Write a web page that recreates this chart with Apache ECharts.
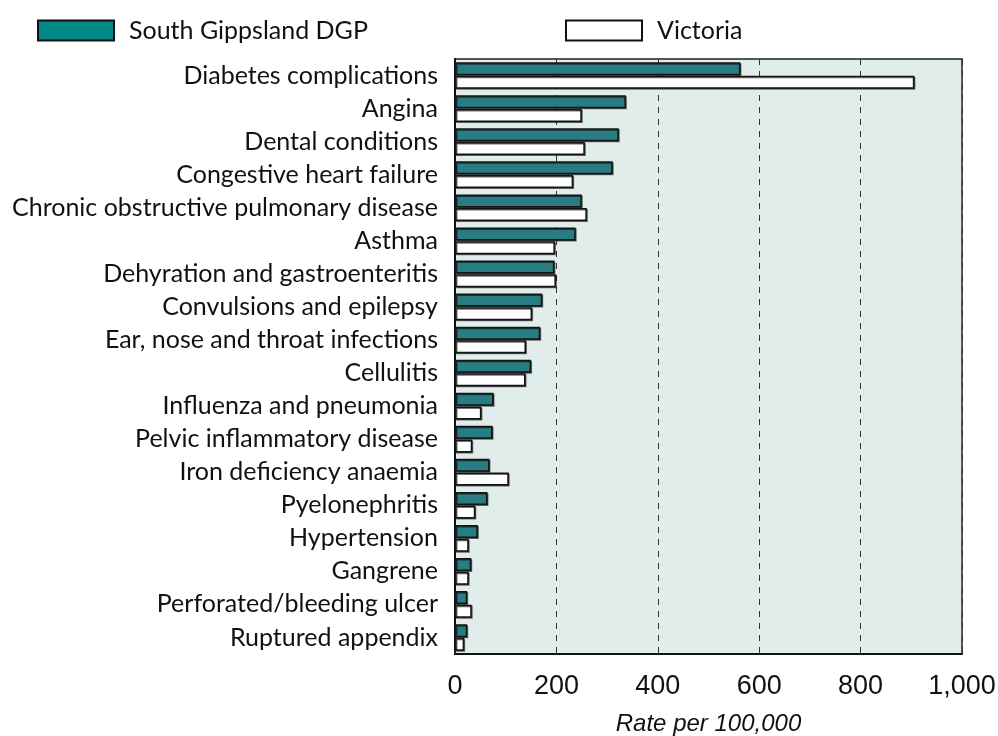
<!DOCTYPE html>
<html>
<head>
<meta charset="utf-8">
<script src="https://cdn.jsdelivr.net/npm/echarts@6/dist/echarts.min.js"></script>
<style>html,body{margin:0;padding:0;background:#fff}#c{width:998px;height:736px}</style>
</head>
<body>
<div id="c"></div>
<script>
const categories = [
  "Diabetes complications",
  "Angina",
  "Dental conditions",
  "Congestive heart failure",
  "Chronic obstructive pulmonary disease",
  "Asthma",
  "Dehyration and gastroenteritis",
  "Convulsions and epilepsy",
  "Ear, nose and throat infections",
  "Cellulitis",
  "Influenza and pneumonia",
  "Pelvic inflammatory disease",
  "Iron deficiency anaemia",
  "Pyelonephritis",
  "Hypertension",
  "Gangrene",
  "Perforated/bleeding ulcer",
  "Ruptured appendix"
];
const southGippsland = [563, 337, 323, 311, 250, 238, 196, 172, 168, 150, 76, 74, 68, 64, 45, 32, 24, 24];
const victoria = [906, 250, 256, 233, 260, 197, 199, 152, 140, 139, 52, 34, 106, 40, 27, 27, 33, 18];
const xTicks = [0, 200, 400, 600, 800, 1000];
const seriesNames = ["South Gippsland DGP", "Victoria"];
const axisTitle = "Rate per 100,000";

const chart = echarts.init(document.getElementById('c'), null, {renderer: 'canvas'});
const barStyleBase = {
  borderColor: '#151515',
  borderWidth: 1.5,
  shadowColor: 'rgba(0,0,0,0.55)',
  shadowOffsetX: 1,
  shadowOffsetY: 1,
  shadowBlur: 0
};
const legendText = {fontFamily: 'Lato, sans-serif', fontSize: 25, color: '#111', padding: [0, 0, 0, 10]};
chart.setOption({
  animation: false,
  backgroundColor: '#ffffff',
  legend: [
    {left: 32, top: 13, itemWidth: 76, itemHeight: 20, icon: 'rect', data: [seriesNames[0]],
     itemStyle: {color: '#03888a', borderColor: '#111', borderWidth: 2, shadowBlur: 0, shadowOffsetX: 0, shadowOffsetY: 0},
     textStyle: legendText},
    {left: 560, top: 13, itemWidth: 76, itemHeight: 20, icon: 'rect', data: [seriesNames[1]],
     itemStyle: {color: '#ffffff', borderColor: '#111', borderWidth: 2, shadowBlur: 0, shadowOffsetX: 0, shadowOffsetY: 0},
     textStyle: legendText}
  ],
  grid: {left: 455, right: 36, top: 59, bottom: 82, containLabel: false, outerBoundsMode: 'none',
         show: true, backgroundColor: '#e1edea', borderColor: '#222', borderWidth: 1.5},
  xAxis: {
    type: 'value', min: xTicks[0], max: xTicks[xTicks.length - 1], interval: 200,
    axisLine: {show: true, lineStyle: {color: '#111', width: 2}},
    axisTick: {show: true, inside: true, length: 7, lineStyle: {color: '#333', width: 1}},
    splitLine: {show: true, lineStyle: {color: '#333', type: [6, 6], width: 1}},
    axisLabel: {fontFamily: '"Liberation Sans",sans-serif', fontSize: 27, color: '#111', margin: 19,
      formatter: v => v.toLocaleString('en-US')},
    name: axisTitle, nameLocation: 'middle', nameGap: 58,
    nameTextStyle: {fontFamily: '"Liberation Sans",sans-serif', fontStyle: 'italic', fontSize: 24, color: '#111'}
  },
  yAxis: {
    type: 'category', data: categories, inverse: true,
    axisLine: {show: true, lineStyle: {color: '#111', width: 2}},
    axisTick: {show: false},
    axisLabel: {fontFamily: 'Lato, sans-serif', fontSize: 25, color: '#111', margin: 17}
  },
  series: [
    {name: seriesNames[0], type: 'bar', data: southGippsland, barWidth: 13, barGap: '5%',
     itemStyle: Object.assign({color: '#287c82'}, barStyleBase)},
    {name: seriesNames[1], type: 'bar', data: victoria, barWidth: 13, barGap: '5%',
     itemStyle: Object.assign({color: '#ffffff'}, barStyleBase)}
  ]
});
</script>
</body>
</html>
